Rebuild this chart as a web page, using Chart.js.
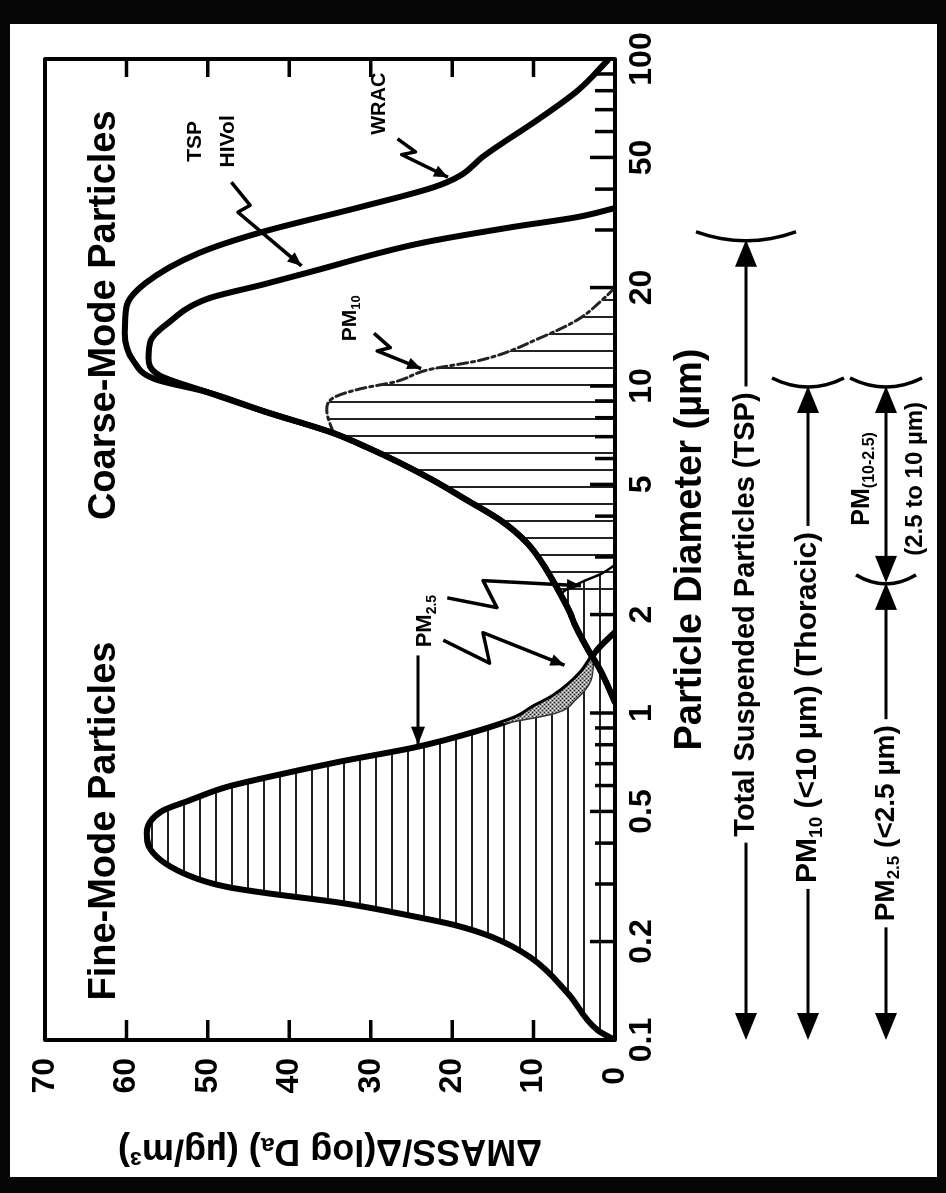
<!DOCTYPE html>
<html lang="en">
<head>
<meta charset="UTF-8">
<meta name="viewport" content="width=device-width, initial-scale=1.0">
<title>Particle Size Distribution</title>
<script src="https://cdn.jsdelivr.net/npm/chart.js"></script>
<style>
    body {
        margin: 0;
        width: 946px;
        height: 1193px;
        overflow: hidden;
        position: relative;
        background-color: #060606;
    }
    #paper {
        position: absolute;
        left: 10px;
        top: 24px;
        width: 927px;
        height: 1153px;
        background-color: white;
    }
    /* the figure is printed turned a quarter turn, so the chart is drawn upright and rotated */
    #turn {
        position: absolute;
        left: 0;
        top: 0;
        width: 1193px;
        height: 946px;
        transform-origin: 0 0;
        transform: translate(0, 1193px) rotate(-90deg);
    }
    #sizeChart { display: block; }
</style>
</head>
<body>
<div id="paper"></div>
<div id="turn"><canvas id="sizeChart" width="1193" height="946"></canvas></div>

<script>
    // fine mode curve (diameter in um, mass in ug/m3)
    const fineDiam = [0.1, 0.107, 0.139, 0.179, 0.207, 0.225, 0.238, 0.263, 0.282, 0.294, 0.318, 0.381, 0.43, 0.5, 0.54, 0.594, 0.633, 0.71, 0.787, 0.88, 0.97, 1.04, 1.12, 1.32, 1.56, 1.77];
    const fineMass = [0, 2.1, 5.8, 10.4, 15.2, 19.8, 24.4, 33.8, 43.1, 47.7, 52.3, 57, 57.5, 55.7, 52.3, 47.7, 43.1, 33.8, 24.4, 17, 12, 10, 7.6, 4.2, 2.2, 0];

    // rising side of the coarse mode, shared by both samplers
    const coarseDiam = [1.08, 1.35, 1.56, 1.88, 2.02, 2.33, 2.74, 3.31, 3.89, 4.48, 5.16, 5.82, 6.5, 7.18, 8.32, 9.6];
    const coarseMass = [0, 1.8, 3.3, 5.0, 5.5, 6.8, 8.4, 10.8, 14.1, 18.2, 22.4, 26.4, 30.5, 34.6, 42.8, 50.2];

    // TSP HiVol and WRAC tails
    const tspDiam = [10.8, 12.2, 13.8, 15.5, 18.5, 20.5, 22.3, 27.4, 30.6, 32.9, 35];
    const tspMass = [56, 57.3, 57, 55, 50, 43, 37.5, 23.7, 12.7, 4.5, 0];
    const wracDiam = [10.5, 12, 14.5, 17.5, 20.6, 25.5, 29.4, 35.3, 40.6, 44, 50.1, 66.5, 80.4, 99];
    const wracMass = [56.5, 59.2, 60.2, 60, 57.7, 51.1, 43.7, 31.2, 22.2, 19, 16.3, 9, 4.5, 0.9];

    // PM10 sampler cut (dashed)
    const pm10Diam = [7.18, 8.45, 9.2, 9.8, 10.3, 11.2, 12.0, 14.1, 16.0, 18.3, 20];
    const pm10Mass = [34.6, 35.4, 34.6, 31.3, 27.0, 23.0, 16.5, 9.0, 4.5, 1.6, 0];

    // coarse particles caught by the PM2.5 sampler
    const pm25TailDiam = [1.08, 1.35, 1.56, 1.88, 2.02, 2.3, 2.5, 2.68, 2.84];
    const pm25TailMass = [0, 1.8, 3.3, 5.0, 5.5, 6.6, 4.3, 1.5, 0];

    // inner edge of the stippled overlap
    const stippleDiam = [0.93, 1.0, 1.1, 1.25, 1.45];
    const stippleMass = [13.5, 7.2, 4.8, 3.0, 2.6];

    // axis ticks
    const xTickValues = [0.1, 0.2, 0.3, 0.4, 0.5, 0.6, 0.7, 0.8, 0.9, 1, 2, 3, 4, 5, 6, 7, 8, 9, 10, 20, 30, 40, 50, 60, 70, 80, 90, 100];
    const xLabelValues = [0.1, 0.2, 0.5, 1, 2, 5, 10, 20, 50, 100];

    // size ranges under the axis
    const rangeNames = ['TSP', 'PM10', 'PM2.5', 'PM10-2.5'];
    const rangeFrom = [0.1, 0.1, 0.1, 2.5];
    const rangeTo = [28, 10, 2.5, 10];

    const FONT = '"Liberation Sans", Arial, Helvetica, sans-serif';
    Chart.defaults.font.family = FONT;
    Chart.defaults.font.weight = 'bold';
    Chart.defaults.color = '#000';

    const canvas = document.getElementById('sizeChart');
    const cctx = canvas.getContext('2d');

    function makePattern(w, h, paint) {
        const tile = document.createElement('canvas');
        tile.width = w;
        tile.height = h;
        paint(tile.getContext('2d'));
        return cctx.createPattern(tile, 'repeat');
    }
    const rowHatch = makePattern(8, 16, g => { g.fillStyle = '#222'; g.fillRect(0, 7, 8, 2); });
    const colHatch = makePattern(17, 8, g => { g.fillStyle = '#222'; g.fillRect(8, 0, 2, 8); });
    const stipple = makePattern(4, 4, g => {
        g.fillStyle = '#9a9a9a'; g.fillRect(0, 0, 4, 4);
        g.fillStyle = '#222'; g.fillRect(0, 0, 1, 1); g.fillRect(2, 2, 1, 1);
        g.fillStyle = '#eee'; g.fillRect(2, 0, 1, 1); g.fillRect(0, 2, 1, 1);
    });

    const pts = (xs, ys) => xs.map((x, i) => ({x: x, y: ys[i]}));
    const coarsePts = pts(coarseDiam, coarseMass);
    const pm10Area = coarsePts.filter(p => p.x >= 2.3 && p.x < pm10Diam[0]).concat(pts(pm10Diam, pm10Mass));

    // annotation text and pointers, in data units (diameter, mass)
    const notes = [
        {parts: [['Fine-Mode Particles']], d: 0.132, m: 62.7, size: 38, align: 'left'},
        {parts: [['Coarse-Mode Particles']], d: 3.89, m: 62.7, size: 38, align: 'left'},
        {parts: [['TSP']], d: 56, m: 51.5, size: 21, align: 'center'},
        {parts: [['HIVol']], d: 56, m: 47.5, size: 21, align: 'center'},
        {parts: [['WRAC']], d: 73, m: 28.9, size: 20, align: 'center'},
        {parts: [['PM'], ['10', 'sub']], d: 16.1, m: 32.5, size: 21, align: 'center'},
        {parts: [['PM'], ['2.5', 'sub']], d: 1.91, m: 23.3, size: 22, align: 'center'}
    ];
    const pointers = [
        [[42, 47.1], [35.7, 44.8], [34, 46.3], [23.3, 38.5]],
        [[57, 26.7], [52, 24.5], [51, 26.2], [43.5, 20.5]],
        [[14.5, 29.6], [13.1, 27.6], [12.8, 29.2], [11.3, 23.8]],
        [[1.67, 21.1], [1.42, 15.4], [1.76, 16.2], [1.4, 6.2]],
        [[2.25, 20.6], [2.1, 14.5], [2.54, 16.2], [2.45, 4.2]]
    ];
    const straightPointer = [[1.5, 24.2], [0.8, 24.2]];

    // where the size range rows sit below the axis (canvas px before turning)
    const rowLayout = [
        {y: 746, textAt: 2.0, bracket: 50},
        {y: 808, textAt: 1.04, bracket: 36},
        {y: 886, textAt: 0.46, bracket: 30},
        {y: 886, textAt: 5.2, bracket: 36}
    ];

    function richText(ctx, parts, x, y, size, align, clear) {
        const widths = parts.map(([t, k]) => {
            ctx.font = 'bold ' + (k ? Math.round(size * 0.62) : size) + 'px ' + FONT;
            return ctx.measureText(t).width;
        });
        const total = widths.reduce((a, b) => a + b, 0);
        let cx = align === 'center' ? x - total / 2 : (align === 'right' ? x - total : x);
        if (clear) {
            ctx.fillStyle = '#fff';
            ctx.fillRect(cx - 6, y - size * 0.65, total + 12, size * 1.3);
        }
        ctx.fillStyle = '#000';
        ctx.textAlign = 'left';
        ctx.textBaseline = 'middle';
        parts.forEach(([t, k], i) => {
            ctx.font = 'bold ' + (k ? Math.round(size * 0.62) : size) + 'px ' + FONT;
            const dy = k === 'sub' ? size * 0.3 : (k === 'sup' ? -size * 0.3 : 0);
            ctx.fillText(t, cx, y + dy);
            cx += widths[i];
        });
        return total;
    }

    function arrowHead(ctx, from, to, len, half) {
        const ang = Math.atan2(to[1] - from[1], to[0] - from[0]);
        const c = Math.cos(ang), s = Math.sin(ang);
        ctx.beginPath();
        ctx.moveTo(to[0], to[1]);
        ctx.lineTo(to[0] - len * c - half * s, to[1] - len * s + half * c);
        ctx.lineTo(to[0] - len * c + half * s, to[1] - len * s - half * c);
        ctx.closePath();
        ctx.fill();
    }

    const decorations = {
        id: 'decorations',
        afterDatasetsDraw(chart) {
            const {ctx, chartArea: a, scales: {x, y}} = chart;
            const px = d => x.getPixelForValue(d);
            const py = m => y.getPixelForValue(m);
            ctx.save();
            ctx.strokeStyle = '#000';
            ctx.fillStyle = '#000';
            ctx.lineJoin = 'round';

            // frame
            ctx.lineWidth = 4;
            ctx.strokeRect(a.left, a.top, a.right - a.left, a.bottom - a.top);

            // ticks pointing into the plot
            ctx.lineWidth = 3.5;
            ctx.beginPath();
            xTickValues.forEach(v => {
                const X = px(v);
                const len = xLabelValues.includes(v) ? 25 : 20;
                ctx.moveTo(X, a.bottom);
                ctx.lineTo(X, a.bottom - len);
            });
            y.ticks.forEach(t => {
                if (t.value <= 0 || t.value >= 70) return;
                const Y = py(t.value);
                ctx.moveTo(a.left, Y);
                ctx.lineTo(a.left + 20, Y);
                ctx.moveTo(a.right, Y);
                ctx.lineTo(a.right - 18, Y);
            });
            ctx.stroke();

            // squiggly pointers
            pointers.forEach(path => {
                const p = path.map(([d, m]) => [px(d), py(m)]);
                ctx.lineWidth = 3.5;
                ctx.beginPath();
                ctx.moveTo(p[0][0], p[0][1]);
                p.slice(1).forEach(q => ctx.lineTo(q[0], q[1]));
                ctx.stroke();
                arrowHead(ctx, p[p.length - 2], p[p.length - 1], 14, 6);
            });
            const sp = straightPointer.map(([d, m]) => [px(d), py(m)]);
            ctx.lineWidth = 3;
            ctx.beginPath();
            ctx.moveTo(sp[0][0], sp[0][1]);
            ctx.lineTo(sp[1][0], sp[1][1]);
            ctx.stroke();
            arrowHead(ctx, sp[0], sp[1], 18, 7);

            notes.forEach(n => richText(ctx, n.parts, px(n.d), py(n.m), n.size, n.align, false));

            // size range rows under the axis
            rangeNames.forEach((name, i) => {
                const row = rowLayout[i];
                const x0 = px(rangeFrom[i]);
                const x1 = px(rangeTo[i]);
                ctx.lineWidth = 3;
                ctx.beginPath();
                ctx.moveTo(x0 + 10, row.y);
                ctx.lineTo(x1 - 10, row.y);
                ctx.stroke();
                arrowHead(ctx, [x0 + 30, row.y], [x0, row.y], 27, 11);
                arrowHead(ctx, [x1 - 30, row.y], [x1, row.y], 27, 11);

                // bracket at the cut size
                ctx.lineWidth = 3.5;
                ctx.beginPath();
                ctx.moveTo(x1 + 8, row.y - row.bracket);
                ctx.quadraticCurveTo(x1 - 10, row.y, x1 + 8, row.y + row.bracket);
                ctx.stroke();

                const tx = px(row.textAt);
                if (name === 'TSP') {
                    richText(ctx, [['Total Suspended Particles (TSP)']], tx, row.y, 29, 'center', true);
                } else if (name === 'PM10') {
                    richText(ctx, [['PM'], ['10', 'sub'], [' (<10 µm) (Thoracic)']], tx, row.y, 30, 'center', true);
                } else if (name === 'PM2.5') {
                    richText(ctx, [['PM'], ['2.5', 'sub'], [' (<2.5 µm)']], tx, row.y, 28, 'center', true);
                } else {
                    richText(ctx, [['PM'], ['(10-2.5)', 'sub']], tx, row.y - 24, 25, 'center', false);
                    richText(ctx, [['(2.5 to 10 µm)']], tx, row.y + 29, 24, 'center', false);
                }
            });
            ctx.restore();
        }
    };

    new Chart(canvas, {
        type: 'line',
        data: {
            datasets: [{
                label: 'Fine mode',
                data: pts(fineDiam, fineMass),
                borderColor: '#000',
                borderWidth: 6,
                fill: 'origin',
                backgroundColor: rowHatch,
                order: 7
            }, {
                label: 'Overlap',
                data: pts(stippleDiam, stippleMass),
                borderColor: '#333',
                borderWidth: 1.5,
                fill: {target: 0},
                backgroundColor: stipple,
                order: 6
            }, {
                label: 'PM2.5 coarse part',
                data: pts(pm25TailDiam, pm25TailMass),
                borderColor: '#000',
                borderWidth: 2.5,
                fill: 'origin',
                backgroundColor: rowHatch,
                order: 9
            }, {
                label: 'PM10 area',
                data: pm10Area,
                borderWidth: 0,
                borderColor: 'rgba(0,0,0,0)',
                fill: 'origin',
                backgroundColor: colHatch,
                order: 10
            }, {
                label: 'PM10',
                data: pts(pm10Diam, pm10Mass),
                borderColor: '#222',
                borderWidth: 3,
                borderDash: [10, 4, 3, 4],
                fill: false,
                order: 3
            }, {
                label: 'TSP HiVol',
                data: coarsePts.concat(pts(tspDiam, tspMass)),
                borderColor: '#000',
                borderWidth: 6,
                fill: false,
                order: 2
            }, {
                label: 'WRAC',
                data: coarsePts.concat(pts(wracDiam, wracMass)),
                borderColor: '#000',
                borderWidth: 6,
                fill: false,
                order: 1
            }]
        },
        options: {
            responsive: false,
            devicePixelRatio: 1,
            animation: false,
            events: [],
            layout: {padding: {left: 10, right: 59, top: 45, bottom: 221}},
            elements: {
                point: {radius: 0},
                line: {cubicInterpolationMode: 'monotone', borderCapStyle: 'round', borderJoinStyle: 'round'}
            },
            plugins: {
                legend: {display: false},
                tooltip: {enabled: false}
            },
            scales: {
                x: {
                    type: 'logarithmic',
                    min: 0.1,
                    max: 100,
                    grid: {display: false, drawTicks: false},
                    border: {display: false},
                    afterBuildTicks: s => { s.ticks = xTickValues.map(v => ({value: v})); },
                    afterFit: s => { s.height = 110; },
                    ticks: {
                        autoSkip: false,
                        maxRotation: 0,
                        minRotation: 0,
                        padding: 8,
                        color: '#000',
                        font: {size: 32, weight: 'bold'},
                        callback: v => xLabelValues.includes(v) ? String(v) : ''
                    },
                    title: {
                        display: true,
                        text: 'Particle Diameter (µm)',
                        color: '#000',
                        font: {size: 38, weight: 'bold'},
                        padding: {top: 0, bottom: 12}
                    }
                },
                y: {
                    min: 0,
                    max: 70,
                    grid: {display: false, drawTicks: false},
                    border: {display: false},
                    afterFit: s => { s.width = 143; },
                    ticks: {
                        stepSize: 10,
                        crossAlign: 'center',
                        padding: 18,
                        color: '#000',
                        font: {size: 32, weight: 'bold'}
                    },
                    title: {
                        display: true,
                        text: 'ΔMASS/Δ(log Dₐ) (µg/m³)',
                        color: '#000',
                        font: {size: 36, weight: 'bold'},
                        padding: {top: 11, bottom: 0}
                    }
                }
            }
        },
        plugins: [decorations]
    });
</script>
</body>
</html>
